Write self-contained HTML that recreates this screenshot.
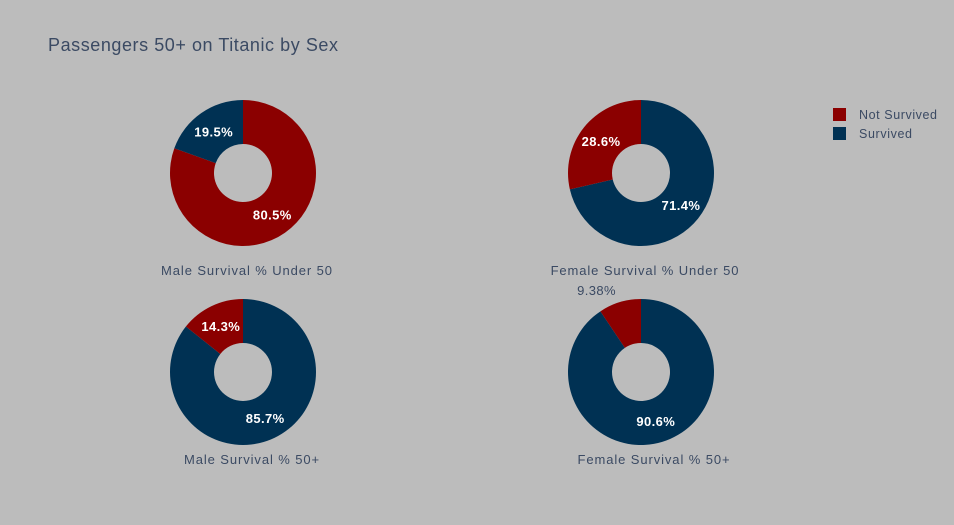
<!DOCTYPE html>
<html><head><meta charset="utf-8"><style>
body{margin:0;background:#bcbcbc;}
svg{display:block;font-family:"Liberation Sans","DejaVu Sans",sans-serif;}
</style></head><body>
<svg id="chart" width="954" height="525">
<rect width="954" height="525" fill="#bcbcbc"/>
<text x="48" y="51" font-size="18" fill="#3b4a63" textLength="290" lengthAdjust="spacing">Passengers 50+ on Titanic by Sex</text>
<g>
<rect x="833" y="108" width="13" height="13" fill="#8b0000"/>
<text x="859" y="119" font-size="12.5" fill="#3b4a63" textLength="78" lengthAdjust="spacing">Not Survived</text>
<rect x="833" y="127" width="13" height="13" fill="#003153"/>
<text x="859" y="138" font-size="12.5" fill="#3b4a63" textLength="53" lengthAdjust="spacing">Survived</text>
</g>
<g id="pies"></g>
</svg>
<script>
const chartTitles = ["Male Survival % Under 50","Female Survival % Under 50","Male Survival % 50+","Female Survival % 50+"];
const notSurvived = [80.5, 28.6, 14.3, 9.38];
const survived = [19.5, 71.4, 85.7, 90.6];
const categories = ["Not Survived","Survived"];
const colors = ["#8b0000","#003153"];
const centers = [[243,173],[641,173],[243,372],[641,372]];
const titleDx = [4,4,9,13];
const titleOffsets = [102,102,92,92];
const R=73, H=29, NS="http://www.w3.org/2000/svg";
const g=document.getElementById('pies');
function pt(a,r,c){return [c[0]+Math.sin(a)*r, c[1]-Math.cos(a)*r];}
function fmt(p){return (p>=10? p.toFixed(1): p.toPrecision(3))+'%';}
for(let i=0;i<4;i++){
  const c=centers[i];
  const vals=[notSurvived[i],survived[i]];
  const tot=vals[0]+vals[1];
  const order=[0,1].sort((a,b)=>vals[b]-vals[a]);
  let a0=0;
  order.forEach(k=>{
    const frac=vals[k]/tot, a1=a0+frac*2*Math.PI;
    const p0=pt(a0,R,c),p1=pt(a1,R,c),q1=pt(a1,H,c),q0=pt(a0,H,c);
    const big=frac>0.5?1:0;
    const path=document.createElementNS(NS,'path');
    path.setAttribute('d',`M${p0[0]},${p0[1]}A${R},${R} 0 ${big} 1 ${p1[0]},${p1[1]}L${q1[0]},${q1[1]}A${H},${H} 0 ${big} 0 ${q0[0]},${q0[1]}Z`);
    path.setAttribute('fill',colors[k]);
    
    
    g.appendChild(path);
    const pct=frac*100, mid=(a0+a1)/2;
    const t=document.createElementNS(NS,'text');
    t.textContent=fmt(pct);
    t.setAttribute('text-anchor','middle');
    t.setAttribute('letter-spacing','0.4');
    if(pct<12){
      const lp=pt(mid,R+18,c);
      t.setAttribute('x',lp[0]-18);t.setAttribute('y',lp[1]+10);
      t.setAttribute('font-size','13');t.setAttribute('fill','#3b4a63');
    } else {
      const lp=pt(mid,51,c);
      t.setAttribute('x',lp[0]);t.setAttribute('y',lp[1]+5);
      t.setAttribute('font-size','13');t.setAttribute('font-weight','bold');t.setAttribute('fill','#ffffff');
    }
    
    
    g.appendChild(t);
    a0=a1;
  });
  const tt=document.createElementNS(NS,'text');
  tt.textContent=chartTitles[i];
  tt.setAttribute('x',c[0]+titleDx[i]);tt.setAttribute('y',c[1]+titleOffsets[i]);
  tt.setAttribute('text-anchor','middle');tt.setAttribute('font-size','13');tt.setAttribute('fill','#3b4a63');
  tt.setAttribute('letter-spacing','0.9');
  
  
  g.appendChild(tt);
}
</script>
</body></html>
